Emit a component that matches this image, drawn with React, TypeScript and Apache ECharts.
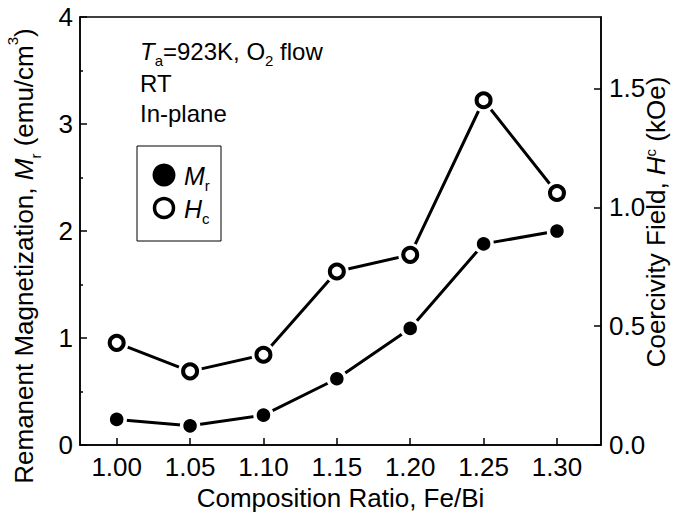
import React, { useEffect, useRef } from "react";
import * as echarts from "echarts";

const xValues = [1.0, 1.05, 1.1, 1.15, 1.2, 1.25, 1.3];
const mrValues = [0.24, 0.18, 0.28, 0.62, 1.09, 1.88, 2.0];
const hcValues = [0.43, 0.31, 0.38, 0.73, 0.8, 1.45, 1.06];
const xTicks = [1.0, 1.05, 1.1, 1.15, 1.2, 1.25, 1.3];
const rightTicks = [0, 0.5, 1.0, 1.5];

const FONT = "'Liberation Sans', Arial, sans-serif";

const rich = (size: number, lh: number) => ({
  n: { fontSize: size, fontFamily: FONT, fill: "#000", lineHeight: lh, verticalAlign: "middle" },
  i: { fontSize: size, fontFamily: FONT, fontStyle: "italic", fill: "#000", lineHeight: lh, verticalAlign: "middle" },
  sub: { fontSize: 15, fontFamily: FONT, fill: "#000", lineHeight: lh, verticalAlign: "bottom" },
  sup: { fontSize: 15, fontFamily: FONT, fill: "#000", lineHeight: lh, verticalAlign: "top" },
});

export default function App() {
  const ref = useRef<HTMLDivElement>(null);
  useEffect(() => {
    if (!ref.current) return;
    const chart = echarts.init(ref.current, null, { renderer: "svg" });
    const mrData = xValues.map((x, i) => [x, mrValues[i]]);
    const hcData = xValues.map((x, i) => [x, hcValues[i]]);
    const axisLine = { show: true, lineStyle: { color: "#000", width: 1.5 } };
    const labelStyle = { color: "#000", fontSize: 26, fontFamily: FONT };
    chart.setOption({
      animation: false,
      backgroundColor: "#fff",
      grid: {
        left: 80,
        right: 72,
        top: 17,
        bottom: 69,
        show: true,
        borderColor: "#000",
        borderWidth: 1.5,
        backgroundColor: "transparent",
      },
      xAxis: {
        type: "value",
        min: 0.975,
        max: 1.33,
        axisLine,
        splitLine: { show: false },
        axisTick: { inside: true, length: 7, customValues: xTicks, lineStyle: { color: "#000", width: 1.5 } },
        axisLabel: { ...labelStyle, margin: 9, customValues: xTicks, formatter: (v: number) => v.toFixed(2) },
        name: "Composition Ratio, Fe/Bi",
        nameLocation: "middle",
        nameGap: 36,
        nameTextStyle: { ...labelStyle, verticalAlign: "top" },
      },
      yAxis: [
        {
          type: "value",
          min: 0,
          max: 4,
          interval: 1,
          axisLine,
          splitLine: { show: false },
          axisTick: { inside: true, length: 7, lineStyle: { color: "#000", width: 1.5 } },
          minorTick: { show: true, splitNumber: 2, length: 3, lineStyle: { color: "#000", width: 1.5 } },
          axisLabel: { ...labelStyle, margin: 7 },
        },
        {
          type: "value",
          min: 0,
          max: 1.8,
          position: "right",
          axisLine,
          splitLine: { show: false },
          axisTick: { inside: true, length: 7, customValues: rightTicks, lineStyle: { color: "#000", width: 1.5 } },
          axisLabel: { ...labelStyle, margin: 8, customValues: rightTicks, formatter: (v: number) => v.toFixed(1) },
        },
      ],
      series: [
        {
          type: "line",
          data: mrData,
          yAxisIndex: 0,
          symbol: "circle",
          symbolSize: 17,
          silent: true,
          itemStyle: { color: "#000", borderColor: "#fff", borderWidth: 3.5 },
          lineStyle: { color: "#000", width: 3 },
          z: 3,
        },
        {
          type: "line",
          data: hcData,
          yAxisIndex: 1,
          symbol: "circle",
          symbolSize: 24,
          silent: true,
          itemStyle: { color: "#fff", borderWidth: 0 },
          lineStyle: { color: "#000", width: 3 },
          z: 3,
        },
        {
          type: "scatter",
          data: hcData,
          yAxisIndex: 1,
          symbol: "circle",
          symbolSize: 14,
          silent: true,
          itemStyle: { color: "#fff", borderColor: "#000", borderWidth: 4, opacity: 1 },
          z: 4,
        },
      ],
      graphic: [
        {
          type: "text",
          x: 24,
          y: 256,
          rotation: Math.PI / 2,
          style: {
            text: "{n|Remanent Magnetization, }{i|M}{sub|r}{n| (emu/cm}{sup|3}{n|)}",
            align: "center",
            verticalAlign: "middle",
            rich: rich(26, 38),
          },
        },
        {
          type: "text",
          x: 656,
          y: 222,
          rotation: Math.PI / 2,
          style: {
            text: "{n|Coercivity Field, }{i|H}{sup|c}{n| (kOe)}",
            align: "center",
            verticalAlign: "middle",
            rich: rich(26, 26),
          },
        },
        {
          type: "text",
          x: 140,
          y: 51,
          style: {
            text: "{i|T}{sub|a}{n|=923K, O}{sub|2}{n| flow}",
            verticalAlign: "middle",
            rich: rich(24, 34),
          },
        },
        {
          type: "text",
          x: 140,
          y: 71,
          style: { text: "RT", fontSize: 24, fontFamily: FONT, fill: "#000" },
        },
        {
          type: "text",
          x: 140,
          y: 101,
          style: { text: "In-plane", fontSize: 24, fontFamily: FONT, fill: "#000" },
        },
        {
          type: "rect",
          shape: { x: 137, y: 146, width: 84, height: 95 },
          style: { fill: "none", stroke: "#000", lineWidth: 1 },
        },
        {
          type: "circle",
          shape: { cx: 164, cy: 175, r: 11.5 },
          style: { fill: "#000" },
        },
        {
          type: "circle",
          shape: { cx: 164, cy: 208, r: 9.5 },
          style: { fill: "#fff", stroke: "#000", lineWidth: 3.5 },
        },
        {
          type: "text",
          x: 184,
          y: 176,
          style: { text: "{i|M}{sub|r}", verticalAlign: "middle", rich: rich(25, 34) },
        },
        {
          type: "text",
          x: 184,
          y: 209,
          style: { text: "{i|H}{sub|c}", verticalAlign: "middle", rich: rich(25, 34) },
        },
      ],
    });
    return () => chart.dispose();
  }, []);
  return <div ref={ref} style={{ width: 673, height: 516, position: "absolute", left: 0, top: 0 }} />;
}
